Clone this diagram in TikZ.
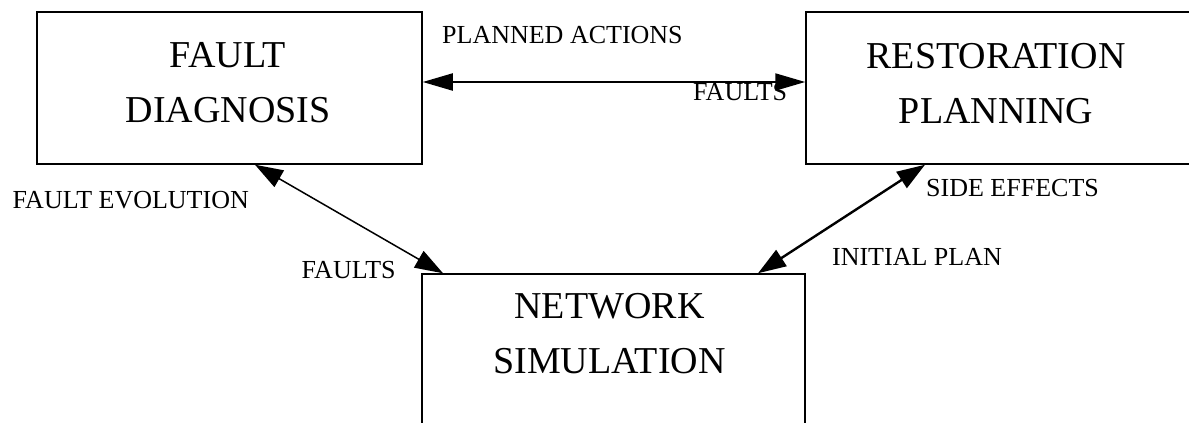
\documentclass[tikz,border=0pt]{standalone}
\usepackage{fontspec}
\setmainfont{Liberation Serif}
\usetikzlibrary{arrows.meta}
\begin{document}
\begin{tikzpicture}[x=1pt,y=-1pt,
  block/.style={draw, line width=1.5pt, rectangle, inner sep=0pt},
  blocktext/.style={font=\fontsize{38}{55}\selectfont, align=center, inner sep=0pt, anchor=north},
  lbl/.style={font=\fontsize{26}{30}\selectfont, inner sep=0pt},
  link/.style={line width=1.5pt, {Triangle[length=28pt,width=19pt]}-{Triangle[length=28pt,width=19pt]}},
  hlink/.style={line width=2pt, {Triangle[length=30pt,width=17pt]}-{Triangle[length=30pt,width=17pt]}}]
\clip (0,0) rectangle (1189,423);

% the three blocks
\node[block, minimum width=385pt, minimum height=152pt] (fd) at (229.5,88) {};
\node[block, minimum width=386pt, minimum height=152pt] (rp) at (999,88) {};
\node[block, minimum width=383pt, minimum height=154pt] (ns) at (613.5,351) {};

\node[blocktext] (fdt) at (228,42) {FAULT\\DIAGNOSIS};
\node[blocktext] (rpt) at (996,43) {RESTORATION\\PLANNING};
\node[blocktext] (nst) at (609.5,293) {NETWORK\\SIMULATION};

% connectors
\draw[hlink] ([yshift=6pt]fd.east) -- ([yshift=6pt]rp.west);
\draw[link] ([xshift=25.5pt]fd.south) -- ([xshift=-170.5pt]ns.north);
\draw[link, line width=2.4pt] ([xshift=-74pt]rp.south) -- ([xshift=144.5pt]ns.north);

% connector labels
\node[lbl, anchor=base west] (l1) at (442,43.3) {PLANNED ACTIONS};
\node[lbl, anchor=base west] (l2) at (693,100) {FAULTS};
\node[lbl, anchor=base west] (l3) at (12.5,208.3) {FAULT EVOLUTION};
\node[lbl, anchor=base west] (l4) at (301.5,278) {FAULTS};
\node[lbl, anchor=base west] (l5) at (926,196) {SIDE EFFECTS};
\node[lbl, anchor=base east] (l6) at (1002,265) {INITIAL PLAN};
\end{tikzpicture}
\end{document}
